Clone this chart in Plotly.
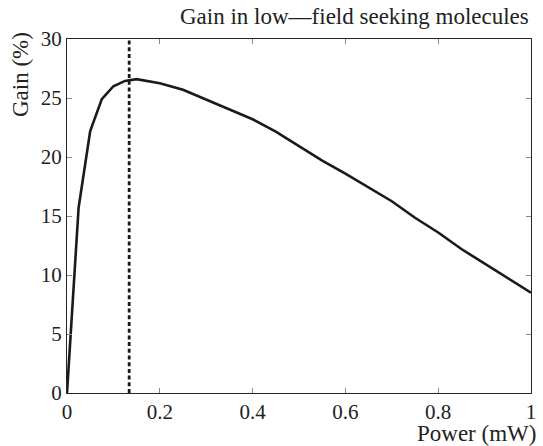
import plotly.graph_objects as go

power_mw = [0, 0.025, 0.05, 0.075, 0.1, 0.125, 0.15, 0.2, 0.25, 0.3, 0.35, 0.4,
            0.45, 0.5, 0.55, 0.6, 0.65, 0.7, 0.75, 0.8, 0.85, 0.9, 0.95, 1.0]
gain_pct = [0, 15.7, 22.2, 24.9, 26.0, 26.45, 26.6, 26.25, 25.7, 24.85, 24.05, 23.2,
            22.15, 20.9, 19.7, 18.6, 17.4, 16.25, 14.85, 13.6, 12.2, 10.95, 9.7, 8.5]
optimum_power = 0.134
x_ticks = [0, 0.2, 0.4, 0.6, 0.8, 1]
x_tick_text = ["0", "0.2", "0.4", "0.6", "0.8", "1"]
y_ticks = [0, 5, 10, 15, 20, 25, 30]

FONT = "Liberation Serif"
FS_TICK = 21
FS_LABEL = 23
fig = go.Figure()
fig.add_trace(go.Scatter(x=power_mw, y=gain_pct, mode="lines",
                         line=dict(color="#1a1a1a", width=2.6), showlegend=False))
fig.add_trace(go.Scatter(x=[optimum_power, optimum_power], y=[0, 30], mode="lines",
                         line=dict(color="#1a1a1a", width=2.8, dash="4px,2.7px"),
                         showlegend=False))

axis_common = dict(showgrid=False, zeroline=False, showline=True, linecolor="#262626",
                   linewidth=1.3, mirror="ticks", ticks="inside", ticklen=5,
                   tickcolor="#8a8a8a", tickwidth=1,
                   tickfont=dict(family=FONT, size=FS_TICK, color="#222222"))
fig.update_xaxes(range=[0, 1], tickvals=x_ticks, ticktext=x_tick_text, **axis_common)
fig.update_yaxes(range=[0, 30], tickvals=y_ticks, **axis_common)

fig.update_layout(
    width=543, height=446, plot_bgcolor="white", paper_bgcolor="white",
    font=dict(family=FONT, size=FS_TICK, color="#222222"),
    margin=dict(l=67, r=7, t=38.5, b=52.5),
    annotations=[
        dict(text="Gain in low\u2014field seeking molecules", xref="paper", yref="paper",
             x=1, y=1, xanchor="right", yanchor="bottom", yshift=8, xshift=0,
             showarrow=False, font=dict(family=FONT, size=FS_LABEL, color="#222222")),
        dict(text="Power (mW)", xref="paper", yref="paper", x=1, y=0,
             xanchor="right", yanchor="top", yshift=-26, xshift=7, showarrow=False,
             font=dict(family=FONT, size=FS_LABEL, color="#222222")),
        dict(text="Gain (%)", xref="paper", yref="paper", x=0, y=1, textangle=-90,
             xanchor="right", yanchor="top", xshift=-32, yshift=9, showarrow=False,
             font=dict(family=FONT, size=FS_LABEL, color="#222222")),
    ],
)
fig.write_html("out.html")
